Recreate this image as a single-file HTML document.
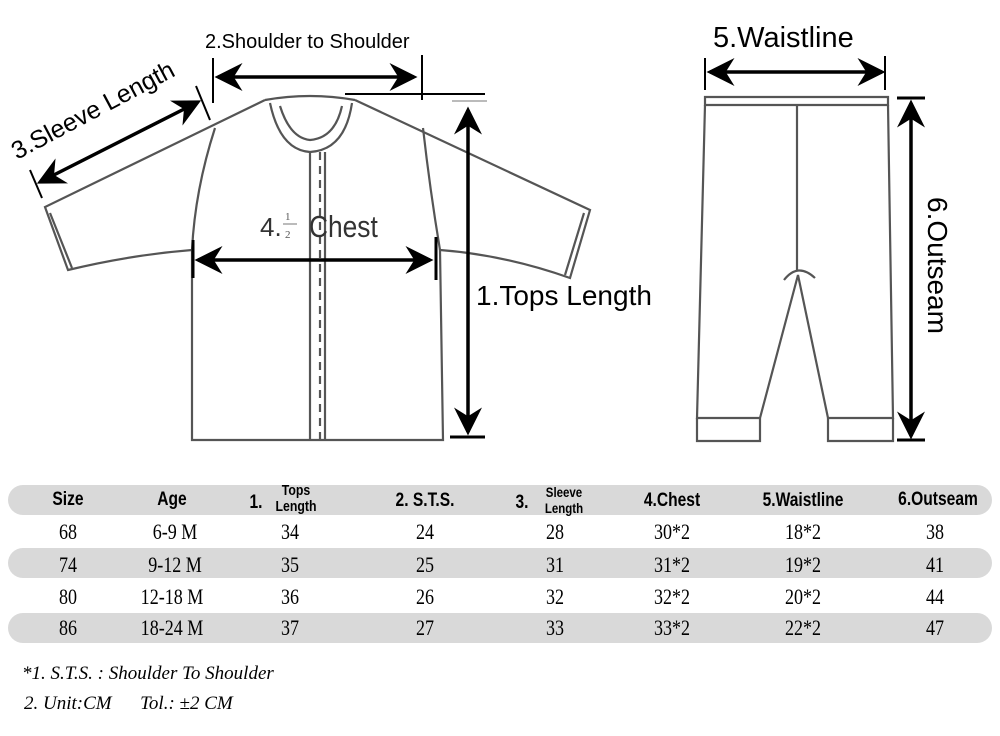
<!DOCTYPE html>
<html><head><meta charset="utf-8"><style>
body{margin:0;width:1000px;height:736px;background:#fff;overflow:hidden;position:relative;font-family:"Liberation Sans",sans-serif}
svg{position:absolute;left:0;top:0}
.band{position:absolute;left:8px;width:984px;height:30px;background:#d9d9d9;border-radius:15px}
.c{position:absolute;transform:translateX(-50%);white-space:nowrap;text-align:center}
.h{font-family:"Liberation Sans",sans-serif;font-weight:bold;font-size:19px;transform:translateX(-50%) scaleX(0.82)}
.v{font-family:"Liberation Serif",serif;font-size:22px;transform:translateX(-50%) scaleX(0.82)}
.fn{position:absolute;font-family:"Liberation Serif",serif;font-style:italic;font-size:19px}
</style></head><body>
<div class="band" style="top:485px"></div>
<div class="band" style="top:548px"></div>
<div class="band" style="top:613px"></div>
<svg width="1000" height="736" viewBox="0 0 1000 736">
<defs><marker id="a" markerWidth="8" markerHeight="8" refX="7" refY="4" orient="auto-start-reverse" markerUnits="strokeWidth"><path d="M0,0 L8,4 L0,8 L2.5,4 Z" fill="#000"/></marker></defs>
<g fill="none" stroke="#555" stroke-width="2.2">
<!-- shirt -->
<path d="M265,100 Q310,92 355,100"/>
<path d="M270,103 Q280,150 310,152 Q345,150 352,103"/>
<path d="M280,106 Q290,138 310,140 Q335,138 342,106"/>
<path d="M265,100 L45,207 L68,270 Q130,255 192,250 L192,440 L443,440 L440,250 Q505,255 570,278 L590,210 L355,100"/>
<path d="M50,213 L72,268 M584,213 L565,275"/>
<path d="M215,128 Q195,190 192,250 M423,128 Q430,190 440,250"/>
<path d="M310,152 L310,440 M325,152 L325,440"/>
<path d="M320,152 L320,440" stroke-dasharray="8,6"/>
<!-- pants -->
<path d="M705,97 L888,97 L888,105 L705,105 Z"/>
<path d="M705,105 L697,418 L760,418 L798,275 L828,418 L893,418 L888,105"/>
<path d="M697,418 L697,441 L760,441 L760,418 M828,418 L828,441 L893,441 L893,418"/>
<path d="M797,105 L797,270 M784,280 Q798,262 815,278"/>
</g>
<g stroke="#000" stroke-width="4" fill="none">
<line x1="218" y1="77" x2="414" y2="77" marker-start="url(#a)" marker-end="url(#a)" stroke-width="3.5"/>
<line x1="468" y1="110" x2="468" y2="432" marker-start="url(#a)" marker-end="url(#a)" stroke-width="3.5"/>
<line x1="198" y1="260" x2="430" y2="260" marker-start="url(#a)" marker-end="url(#a)" stroke-width="3.5"/>
<line x1="40" y1="182" x2="198" y2="102" marker-start="url(#a)" marker-end="url(#a)" stroke-width="3.5"/>
<line x1="710" y1="72" x2="882" y2="72" marker-start="url(#a)" marker-end="url(#a)" stroke-width="3.5"/>
<line x1="911" y1="103" x2="911" y2="436" marker-start="url(#a)" marker-end="url(#a)" stroke-width="3.5"/>
</g>
<g stroke="#000" stroke-width="2">
<line x1="213" y1="58" x2="213" y2="103"/><line x1="422" y1="55" x2="422" y2="100"/>
<line x1="345" y1="94" x2="485" y2="94"/><line x1="452" y1="101" x2="487" y2="101" stroke="#bbb"/>
<line x1="450" y1="437" x2="485" y2="437" stroke-width="3"/>
<line x1="193" y1="240" x2="193" y2="278" stroke-width="3"/><line x1="436" y1="237" x2="436" y2="280" stroke-width="3"/>
<line x1="30" y1="170" x2="42" y2="198"/><line x1="196" y1="86" x2="210" y2="120"/>
<line x1="705" y1="58" x2="705" y2="90"/><line x1="885" y1="56" x2="885" y2="90"/>
<line x1="897" y1="98" x2="925" y2="98" stroke-width="3"/><line x1="897" y1="440" x2="925" y2="440" stroke-width="3"/>
</g>
<g font-family="Liberation Sans, sans-serif" fill="#000">
<text x="205" y="48" font-size="20">2.Shoulder to Shoulder</text>
<text x="713" y="47" font-size="29">5.Waistline</text>
<text x="476" y="305" font-size="28">1.Tops Length</text>
<text transform="translate(928,197) rotate(90)" font-size="28">6.Outseam</text>
<text transform="translate(17,160) rotate(-28)" font-size="25">3.Sleeve Length</text>
<text x="260" y="236" font-size="26" fill="#333">4.</text>
<text x="285" y="220" font-size="11" font-family="Liberation Serif,serif" fill="#555">1</text>
<line x1="283" y1="224" x2="297" y2="224" stroke="#777" stroke-width="1"/>
<text x="285" y="238" font-size="11" font-family="Liberation Serif,serif" fill="#555">2</text>
<text x="309" y="237" font-size="31" fill="#333" transform="translate(309,237) scale(0.85,1) translate(-309,-237)">Chest</text>
</g>
</svg>
<div class="c h" style="left:68px;top:489px">Size</div>
<div class="c h" style="left:172px;top:489px">Age</div>
<div class="c h" style="left:256px;top:492px">1.</div>
<div class="c h" style="left:296px;top:483px;font-size:15px;line-height:16px">Tops<br>Length</div>
<div class="c h" style="left:425px;top:490px">2. S.T.S.</div>
<div class="c h" style="left:522px;top:492px">3.</div>
<div class="c h" style="left:564px;top:484px;font-size:14px;line-height:16px">Sleeve<br>Length</div>
<div class="c h" style="left:672px;top:490px">4.Chest</div>
<div class="c h" style="left:803px;top:490px">5.Waistline</div>
<div class="c h" style="left:938px;top:489px">6.Outseam</div>
<div class="c v" style="left:68px;top:519px">68</div><div class="c v" style="left:175px;top:519px">6-9 M</div><div class="c v" style="left:290px;top:519px">34</div><div class="c v" style="left:425px;top:519px">24</div><div class="c v" style="left:555px;top:519px">28</div><div class="c v" style="left:672px;top:519px">30*2</div><div class="c v" style="left:803px;top:519px">18*2</div><div class="c v" style="left:935px;top:519px">38</div>
<div class="c v" style="left:68px;top:552px">74</div><div class="c v" style="left:175px;top:552px">9-12 M</div><div class="c v" style="left:290px;top:552px">35</div><div class="c v" style="left:425px;top:552px">25</div><div class="c v" style="left:555px;top:552px">31</div><div class="c v" style="left:672px;top:552px">31*2</div><div class="c v" style="left:803px;top:552px">19*2</div><div class="c v" style="left:935px;top:552px">41</div>
<div class="c v" style="left:68px;top:584px">80</div><div class="c v" style="left:172px;top:584px">12-18 M</div><div class="c v" style="left:290px;top:584px">36</div><div class="c v" style="left:425px;top:584px">26</div><div class="c v" style="left:555px;top:584px">32</div><div class="c v" style="left:672px;top:584px">32*2</div><div class="c v" style="left:803px;top:584px">20*2</div><div class="c v" style="left:935px;top:584px">44</div>
<div class="c v" style="left:68px;top:615px">86</div><div class="c v" style="left:172px;top:615px">18-24 M</div><div class="c v" style="left:290px;top:615px">37</div><div class="c v" style="left:425px;top:615px">27</div><div class="c v" style="left:555px;top:615px">33</div><div class="c v" style="left:672px;top:615px">33*2</div><div class="c v" style="left:803px;top:615px">22*2</div><div class="c v" style="left:935px;top:615px">47</div>
<div class="fn" style="left:22px;top:663px">*1. S.T.S. : Shoulder To Shoulder</div>
<div class="fn" style="left:24px;top:693px">2. Unit:CM&nbsp;&nbsp;&nbsp;&nbsp;&nbsp;&nbsp;Tol.: ±2 CM</div>
</body></html>
